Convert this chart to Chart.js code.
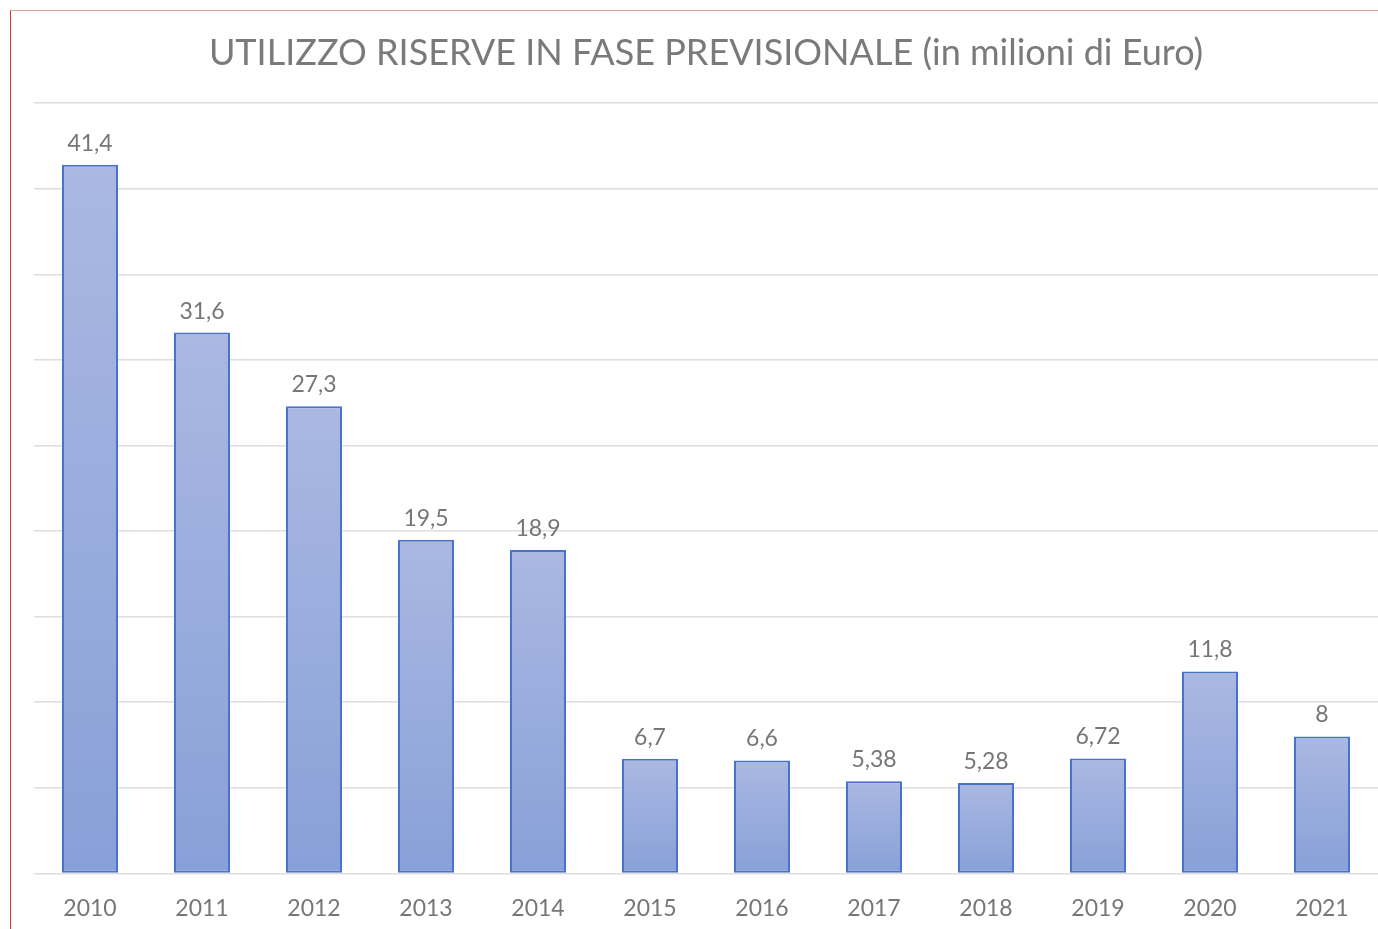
<!DOCTYPE html>
<html>
<head>
<meta charset="utf-8">
<script src="https://cdn.jsdelivr.net/npm/chart.js@4"></script>
<style>
  html, body { margin: 0; padding: 0; background: #fff; overflow: hidden; }
  #wrap { position: absolute; left: 0; top: 0; width: 1378px; height: 929px; }
  canvas { display: block; }
  #frame { position: absolute; left: 10px; top: 10px; width: 1368px; height: 919px;
           border-left: 1.5px solid #e03030; border-top: 1px solid #dba5a5; pointer-events: none; }
</style>
</head>
<body>
<div id="wrap"><canvas id="c" width="1378" height="929"></canvas></div>
<div id="frame"></div>
<script>
const categories = ["2010","2011","2012","2013","2014","2015","2016","2017","2018","2019","2020","2021"];
const values = [41.4, 31.6, 27.3, 19.5, 18.9, 6.7, 6.6, 5.38, 5.28, 6.72, 11.8, 8];
const titleText = "UTILIZZO RISERVE IN FASE PREVISIONALE (in milioni di Euro)";

const fontFamily = "Lato, 'Open Sans', sans-serif";

const valueLabels = {
  id: 'valueLabels',
  afterDatasetsDraw(chart) {
    const ctx = chart.ctx;
    const meta = chart.getDatasetMeta(0);
    ctx.save();
    ctx.fillStyle = '#767676';
    ctx.font = '23px ' + fontFamily;
    ctx.textAlign = 'center';
    ctx.textBaseline = 'alphabetic';
    meta.data.forEach((bar, i) => {
      const txt = String(values[i]).replace('.', ',');
      ctx.fillText(txt, bar.x, bar.y - 14);
    });
    ctx.restore();
  }
};

function barGradient(context) {
  const chart = context.chart;
  const yScale = chart.scales && chart.scales.y;
  if (!yScale || context.dataIndex === undefined) return '#99abdc';
  const v = values[context.dataIndex];
  const top = yScale.getPixelForValue(v);
  const bottom = yScale.getPixelForValue(0);
  if (!isFinite(top) || !isFinite(bottom) || top === bottom) return '#99abdc';
  const g = chart.ctx.createLinearGradient(0, top, 0, bottom);
  g.addColorStop(0, '#aab8e2');
  g.addColorStop(1, '#88a0d8');
  return g;
}

new Chart(document.getElementById('c'), {
  type: 'bar',
  data: {
    labels: categories,
    datasets: [{
      data: values,
      backgroundColor: barGradient,
      borderColor: '#4a72c6',
      borderWidth: 2,
      borderSkipped: false,
      barPercentage: 0.5,
      categoryPercentage: 1.0
    }]
  },
  options: {
    responsive: false,
    animation: false,
    layout: { padding: { left: 34, right: 0, top: 0, bottom: -6 } },
    plugins: {
      legend: { display: false },
      tooltip: { enabled: false },
      title: {
        display: true,
        text: titleText,
        color: '#7a7a7a',
        font: { family: fontFamily, size: 36, weight: 'normal' },
        padding: { top: 32, bottom: 28 }
      }
    },
    scales: {
      x: {
        grid: { display: false },
        border: { display: false },
        ticks: { color: '#767676', font: { family: fontFamily, size: 23 }, padding: 13 }
      },
      y: {
        min: 0, max: 45,
        ticks: { display: false, stepSize: 5 },
        border: { display: false },
        grid: { color: '#dedede', lineWidth: 1.5, drawTicks: false }
      }
    }
  },
  plugins: [valueLabels]
});
</script>
</body>
</html>
